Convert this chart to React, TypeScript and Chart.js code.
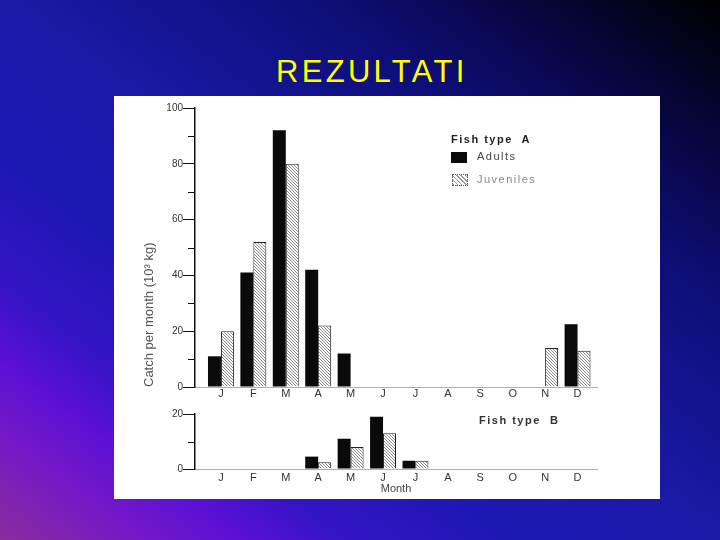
import React, { useEffect, useRef } from "react";
import { Chart, registerables } from "chart.js";

Chart.register(...registerables);

// ---- data ----
const months = ["J", "F", "M", "A", "M", "J", "J", "A", "S", "O", "N", "D"];
const adultsA = [11, 41, 92, 42, 12, 0, 0, 0, 0, 0, 0, 22.5];
const juvenilesA = [20, 52, 80, 22, 0, 0, 0, 0, 0, 0, 14, 13];
const adultsB = [0, 0, 0, 4.5, 11, 19, 3, 0, 0, 0, 0, 0];
const juvenilesB = [0, 0, 0, 2.5, 8, 13, 3, 0, 0, 0, 0, 0];
const majorTicksA = [0, 20, 40, 60, 80, 100];
const minorTicksA = [10, 30, 50, 70, 90];
const majorTicksB = [0, 20];
const minorTicksB = [10];

const FONT = "'Liberation Sans', Arial, sans-serif";
const GRADIENT =
  "linear-gradient(to top right, #8a2c9c 0%, #7418c8 10%, #5a10d4 17%, #3414c4 24%, #1c18b4 36%, #1a1aa8 50%, #0e0e78 72%, #080850 82%, #000000 100%)";

function makeHatch(ctx: CanvasRenderingContext2D) {
  const c = document.createElement("canvas");
  c.width = 3;
  c.height = 3;
  const g = c.getContext("2d")!;
  g.fillStyle = "#ffffff";
  g.fillRect(0, 0, 3, 3);
  g.fillStyle = "#8a8a8a";
  for (let i = 0; i < 3; i++) g.fillRect(i, i, 1, 1);
  return ctx.createPattern(c, "repeat") as CanvasPattern;
}

type Props = {
  adults: number[];
  juveniles: number[];
  major: number[];
  minor: number[];
  yMax: number;
  width: number;
  height: number;
  padTop: number;
  xHeight: number;
  xTickPad: number;
  yTitle?: string;
  xTitle?: string;
};

function FishChart(p: Props) {
  const ref = useRef<HTMLCanvasElement>(null);
  useEffect(() => {
    const canvas = ref.current!;
    const ctx = canvas.getContext("2d")!;
    const hatch = makeHatch(ctx);
    const minorPlugin = {
      id: "minorTicks",
      afterDraw(chart: any) {
        const s = chart.scales.y;
        const c = chart.ctx;
        c.save();
        c.strokeStyle = "#111";
        c.lineWidth = 1;
        p.minor.forEach((v) => {
          const y = Math.round(s.getPixelForValue(v)) + 0.5;
          c.beginPath();
          c.moveTo(s.right - 7, y);
          c.lineTo(s.right, y);
          c.stroke();
        });
        c.restore();
      },
    };
    const chart = new Chart(ctx, {
      type: "bar",
      data: {
        datasets: [
          {
            label: "Adults",
            data: p.adults.map((v, i) => ({ x: i, y: v })),
            backgroundColor: "#0a0a0a",
            borderWidth: 0,
            categoryPercentage: 0.8,
            barPercentage: 1,
          },
          {
            label: "Juveniles",
            data: p.juveniles.map((v, i) => ({ x: i, y: v })),
            backgroundColor: hatch,
            borderColor: "#222",
            borderWidth: 1,
            categoryPercentage: 0.8,
            barPercentage: 1,
          },
        ],
      },
      options: {
        responsive: false,
        animation: false,
        devicePixelRatio: 1,
        layout: { padding: { top: p.padTop, right: 63, bottom: 0, left: 0 } },
        plugins: { legend: { display: false }, tooltip: { enabled: false } },
        scales: {
          x: {
            type: "linear",
            offset: false,
            min: -0.8,
            max: 11.6,
            afterBuildTicks: (s: any) => {
              s.ticks = months.map((_, i) => ({ value: i }));
            },
            afterFit: (s: any) => {
              s.height = p.xHeight;
            },
            grid: { display: false, drawTicks: false, offset: false },
            border: { display: true, color: "#b0b0b0", width: 1 },
            ticks: {
              padding: p.xTickPad,
              color: "#333",
              font: { family: FONT, size: 11 },
              callback: (v: any) => months[v as number] ?? "",
            },
            title: {
              display: !!p.xTitle,
              text: p.xTitle || "",
              color: "#444",
              font: { family: FONT, size: 11 },
              padding: { top: 0, bottom: 3 },
            },
          },
          y: {
            min: 0,
            max: p.yMax,
            afterBuildTicks: (s: any) => {
              s.ticks = p.major.map((v) => ({ value: v }));
            },
            afterFit: (s: any) => {
              s.width = 81;
            },
            grid: {
              display: true,
              drawOnChartArea: false,
              drawTicks: true,
              tickLength: 12,
              color: "#111",
              lineWidth: 1,
            },
            border: { display: true, color: "#111", width: 1.5 },
            ticks: {
              padding: 0,
              color: "#333",
              font: { family: FONT, size: 10 },
            },
            title: {
              display: !!p.yTitle,
              text: p.yTitle || "",
              align: "start",
              color: "#555",
              font: { family: FONT, size: 13 },
              padding: { top: 28, bottom: 0 },
            },
          },
        },
      } as any,
      plugins: [minorPlugin],
    });
    return () => chart.destroy();
  }, []);
  return (
    <canvas
      ref={ref}
      width={p.width}
      height={p.height}
      style={{ display: "block", width: p.width, height: p.height }}
    />
  );
}

export default function App() {
  const legendText: React.CSSProperties = {
    position: "absolute",
    fontSize: 11,
    lineHeight: "11px",
    letterSpacing: "1.5px",
    whiteSpace: "pre",
    fontFamily: FONT,
  };
  return (
    <div
      style={{
        position: "fixed",
        left: 0,
        top: 0,
        width: 720,
        height: 540,
        overflow: "hidden",
        background: GRADIENT,
        fontFamily: FONT,
      }}
    >
      <div
        style={{
          position: "absolute",
          left: 276,
          top: 56,
          fontSize: 31,
          lineHeight: "31px",
          letterSpacing: "3.3px",
          color: "#ffff00",
          fontFamily: FONT,
        }}
      >
        REZULTATI
      </div>
      <div
        style={{
          position: "absolute",
          left: 114,
          top: 96,
          width: 546,
          height: 403,
          background: "#ffffff",
        }}
      >
        <div style={{ position: "absolute", left: 0, top: 0 }}>
          <FishChart
            adults={adultsA}
            juveniles={juvenilesA}
            major={majorTicksA}
            minor={minorTicksA}
            yMax={100}
            width={546}
            height={306}
            padTop={12}
            xHeight={15}
            xTickPad={0}
            yTitle="Catch per month (10³ kg)"
          />
        </div>
        <div style={{ position: "absolute", left: 0, top: 306 }}>
          <FishChart
            adults={adultsB}
            juveniles={juvenilesB}
            major={majorTicksB}
            minor={minorTicksB}
            yMax={20}
            width={546}
            height={97}
            padTop={12}
            xHeight={30}
            xTickPad={2}
            xTitle="Month"
          />
        </div>
        <div style={{ ...legendText, left: 337, top: 37.5, fontWeight: "bold", color: "#222" }}>
          {"Fish type  A"}
        </div>
        <div
          style={{
            position: "absolute",
            left: 337,
            top: 56,
            width: 16,
            height: 11,
            background: "#0a0a0a",
          }}
        />
        <div style={{ ...legendText, left: 363, top: 55.3, color: "#444" }}>Adults</div>
        <div
          style={{
            position: "absolute",
            left: 338,
            top: 78,
            width: 14,
            height: 10,
            border: "1px dotted #555",
            background:
              "repeating-linear-gradient(45deg, #9a9a9a 0px, #9a9a9a 1px, #ffffff 1px, #ffffff 3px)",
          }}
        />
        <div style={{ ...legendText, left: 363, top: 78, color: "#888" }}>Juveniles</div>
        <div style={{ ...legendText, left: 365, top: 319, fontWeight: "bold", color: "#333" }}>
          {"Fish type  B"}
        </div>
      </div>
    </div>
  );
}
